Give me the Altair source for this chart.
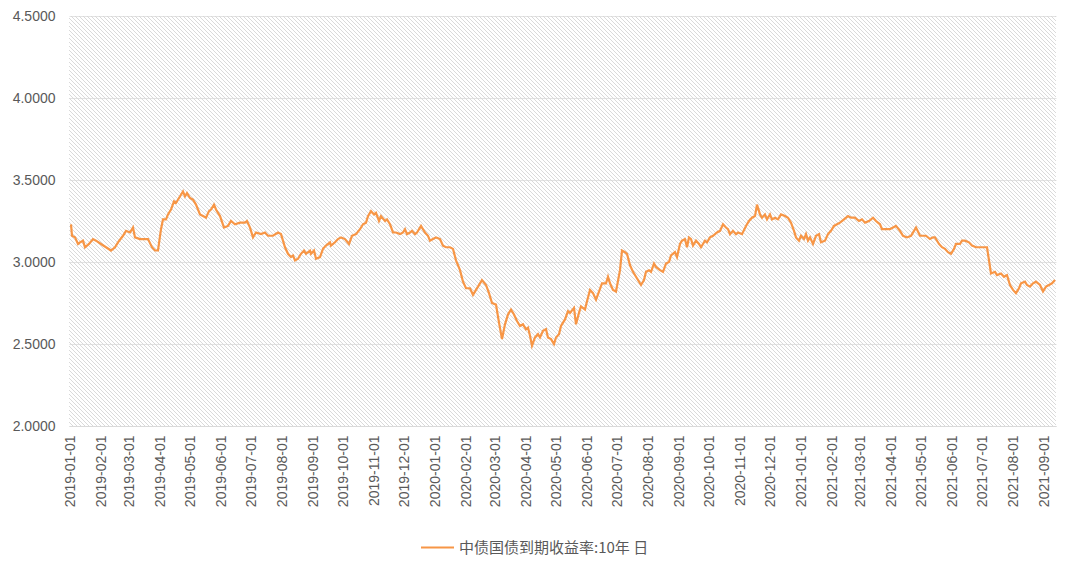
import altair as alt
import pandas as pd

SERIES = "中债国债到期收益率:10年 日"

dates = [
    "2019-01-02","2019-01-03","2019-01-06","2019-01-09","2019-01-11","2019-01-14","2019-01-16","2019-01-20",
    "2019-01-24","2019-01-27","2019-02-01","2019-02-06","2019-02-11","2019-02-15","2019-02-18","2019-02-23",
    "2019-02-26","2019-03-02","2019-03-05","2019-03-07","2019-03-12","2019-03-17","2019-03-20","2019-03-24",
    "2019-03-27","2019-03-30","2019-04-02","2019-04-04","2019-04-07","2019-04-09","2019-04-12","2019-04-15",
    "2019-04-17","2019-04-20","2019-04-22","2019-04-24","2019-04-26","2019-04-28","2019-05-01","2019-05-04",
    "2019-05-07","2019-05-11","2019-05-14","2019-05-17","2019-05-20","2019-05-22","2019-05-25","2019-05-27",
    "2019-05-31","2019-06-04","2019-06-08","2019-06-11","2019-06-15","2019-06-20","2019-06-25","2019-06-27",
    "2019-06-30","2019-07-03","2019-07-06","2019-07-11","2019-07-15","2019-07-18","2019-07-23","2019-07-28",
    "2019-07-31","2019-08-04","2019-08-07","2019-08-10","2019-08-12","2019-08-14","2019-08-17","2019-08-20",
    "2019-08-23","2019-08-25","2019-08-29","2019-08-30","2019-09-02","2019-09-04","2019-09-08","2019-09-11",
    "2019-09-14","2019-09-18","2019-09-19","2019-09-23","2019-09-26","2019-09-29","2019-10-03","2019-10-07",
    "2019-10-10","2019-10-14","2019-10-18","2019-10-21","2019-10-24","2019-10-26","2019-10-29","2019-11-01",
    "2019-11-03","2019-11-06","2019-11-08","2019-11-12","2019-11-14","2019-11-17","2019-11-20","2019-11-23",
    "2019-11-27","2019-11-30","2019-12-02","2019-12-04","2019-12-07","2019-12-09","2019-12-12","2019-12-14",
    "2019-12-18","2019-12-22","2019-12-25","2019-12-27","2019-12-30","2020-01-02","2020-01-06","2020-01-09",
    "2020-01-12","2020-01-16","2020-01-19","2020-01-22","2020-01-26","2020-01-29","2020-02-01","2020-02-05",
    "2020-02-08","2020-02-11","2020-02-15","2020-02-17","2020-02-21","2020-02-24","2020-02-27","2020-03-02",
    "2020-03-05","2020-03-08","2020-03-11","2020-03-14","2020-03-17","2020-03-20","2020-03-23","2020-03-26",
    "2020-03-29","2020-04-01","2020-04-03","2020-04-05","2020-04-07","2020-04-10","2020-04-13","2020-04-15",
    "2020-04-18","2020-04-21","2020-04-23","2020-04-26","2020-04-29","2020-05-01","2020-05-04","2020-05-06",
    "2020-05-10","2020-05-13","2020-05-15","2020-05-19","2020-05-21","2020-05-24","2020-05-26","2020-05-30",
    "2020-06-01","2020-06-04","2020-06-07","2020-06-10","2020-06-13","2020-06-16","2020-06-20","2020-06-22",
    "2020-06-24","2020-06-27","2020-06-30","2020-07-04","2020-07-06","2020-07-09","2020-07-11","2020-07-14",
    "2020-07-17","2020-07-20","2020-07-22","2020-07-25","2020-07-28","2020-07-30","2020-08-02","2020-08-04",
    "2020-08-07","2020-08-09","2020-08-13","2020-08-16","2020-08-19","2020-08-22","2020-08-24","2020-08-28",
    "2020-08-30","2020-09-02","2020-09-04","2020-09-07","2020-09-09","2020-09-11","2020-09-13","2020-09-15",
    "2020-09-18","2020-09-21","2020-09-23","2020-09-27","2020-09-29","2020-10-02","2020-10-05","2020-10-09",
    "2020-10-12","2020-10-15","2020-10-18","2020-10-20","2020-10-22","2020-10-25","2020-10-28","2020-10-30",
    "2020-11-03","2020-11-07","2020-11-10","2020-11-13","2020-11-16","2020-11-18","2020-11-21","2020-11-23",
    "2020-11-26","2020-11-28","2020-12-01","2020-12-03","2020-12-06","2020-12-09","2020-12-12","2020-12-16",
    "2020-12-19","2020-12-22","2020-12-25","2020-12-27","2020-12-30","2021-01-01","2021-01-04","2021-01-06",
    "2021-01-08","2021-01-10","2021-01-13","2021-01-16","2021-01-19","2021-01-21","2021-01-25","2021-01-28",
    "2021-01-31","2021-02-03","2021-02-06","2021-02-09","2021-02-13","2021-02-17","2021-02-20","2021-02-24",
    "2021-02-28","2021-03-03","2021-03-06","2021-03-10","2021-03-14","2021-03-17","2021-03-21","2021-03-23",
    "2021-03-26","2021-03-31","2021-04-03","2021-04-06","2021-04-10","2021-04-13","2021-04-17","2021-04-21",
    "2021-04-24","2021-04-26","2021-04-30","2021-05-03","2021-05-06","2021-05-10","2021-05-13","2021-05-15",
    "2021-05-19","2021-05-22","2021-05-25","2021-05-28","2021-05-31","2021-06-03","2021-06-05","2021-06-09",
    "2021-06-11","2021-06-14","2021-06-18","2021-06-21","2021-06-25","2021-06-30","2021-07-04","2021-07-06",
    "2021-07-08","2021-07-10","2021-07-14","2021-07-16","2021-07-20","2021-07-23","2021-07-26","2021-07-29",
    "2021-08-01","2021-08-04","2021-08-07","2021-08-09","2021-08-13","2021-08-15","2021-08-18","2021-08-21",
    "2021-08-24","2021-08-28","2021-08-31","2021-09-03","2021-09-06","2021-09-09","2021-09-12",
]

yields = [
    3.23,3.16,3.15,3.11,3.12,3.13,3.09,3.11,
    3.14,3.13,3.11,3.09,3.07,3.09,3.12,3.16,
    3.19,3.18,3.21,3.15,3.14,3.14,3.14,3.09,
    3.07,3.07,3.20,3.26,3.26,3.29,3.32,3.37,
    3.36,3.39,3.41,3.43,3.40,3.42,3.39,3.38,
    3.35,3.29,3.28,3.27,3.31,3.32,3.35,3.32,
    3.28,3.21,3.22,3.25,3.23,3.24,3.24,3.25,
    3.21,3.15,3.18,3.17,3.18,3.16,3.16,3.18,
    3.17,3.09,3.05,3.03,3.04,3.01,3.02,3.05,
    3.07,3.05,3.07,3.05,3.07,3.02,3.03,3.08,
    3.10,3.12,3.10,3.12,3.14,3.15,3.14,3.11,
    3.16,3.17,3.20,3.23,3.24,3.28,3.31,3.29,
    3.30,3.25,3.28,3.25,3.26,3.23,3.18,3.18,
    3.17,3.18,3.20,3.17,3.18,3.19,3.17,3.18,
    3.22,3.18,3.16,3.13,3.14,3.15,3.14,3.10,
    3.09,3.09,3.08,3.01,2.95,2.88,2.84,2.84,
    2.80,2.83,2.87,2.89,2.86,2.81,2.75,2.74,
    2.63,2.53,2.62,2.68,2.71,2.68,2.64,2.61,
    2.62,2.59,2.60,2.55,2.49,2.54,2.56,2.54,
    2.58,2.59,2.54,2.53,2.50,2.54,2.56,2.61,
    2.65,2.70,2.69,2.72,2.62,2.69,2.73,2.71,
    2.76,2.83,2.81,2.77,2.82,2.87,2.87,2.91,
    2.87,2.83,2.82,2.95,3.07,3.06,3.05,2.98,
    2.94,2.91,2.89,2.86,2.89,2.94,2.95,2.94,
    2.99,2.97,2.95,2.94,2.99,3.00,3.04,3.06,
    3.03,3.11,3.13,3.14,3.09,3.15,3.14,3.10,
    3.13,3.11,3.09,3.13,3.12,3.15,3.16,3.18,
    3.19,3.23,3.21,3.20,3.17,3.19,3.17,3.18,
    3.17,3.22,3.25,3.27,3.28,3.35,3.29,3.27,
    3.29,3.26,3.29,3.26,3.27,3.26,3.29,3.28,
    3.27,3.24,3.19,3.15,3.13,3.16,3.14,3.17,
    3.13,3.15,3.11,3.16,3.17,3.12,3.13,3.17,
    3.19,3.22,3.23,3.24,3.26,3.28,3.27,3.27,
    3.25,3.26,3.24,3.25,3.27,3.25,3.23,3.20,
    3.20,3.20,3.21,3.22,3.19,3.16,3.15,3.16,
    3.19,3.21,3.16,3.16,3.16,3.14,3.15,3.15,
    3.11,3.09,3.08,3.06,3.05,3.08,3.11,3.11,
    3.13,3.13,3.12,3.10,3.09,3.09,3.09,3.09,
    3.01,2.93,2.94,2.92,2.93,2.91,2.92,2.86,
    2.83,2.81,2.84,2.87,2.88,2.86,2.85,2.87,
    2.88,2.86,2.82,2.85,2.86,2.87,2.89,
]

y_ticks = [2.0, 2.5, 3.0, 3.5, 4.0, 4.5]

W, H = 987, 410
LINE_COLOR = "#F79646"
TEXT_COLOR = "#595959"

df = pd.DataFrame({"date": dates, "value": yields, "series": SERIES})

# decorative diagonal hatching of the plot background
hatch_rows = []
step = 4
for c in range(-H, W + step, step):
    hatch_rows.append({"hx": c, "hy": 0, "hx2": c + H, "hy2": H})
hatch_df = pd.DataFrame(hatch_rows)

hatch = alt.Chart(hatch_df).mark_rule(
    stroke="#d6d6d6", strokeWidth=0.9, clip=True
).encode(
    x=alt.X("hx:Q", scale=None, axis=None),
    y=alt.Y("hy:Q", scale=None, axis=None),
    x2="hx2:Q",
    y2="hy2:Q",
)

line = alt.Chart(df).mark_line(strokeWidth=2.2, interpolate="linear").encode(
    x=alt.X(
        "date:T",
        scale=alt.Scale(
            domain=[
                alt.DateTime(year=2018, month=12, date=31),
                alt.DateTime(year=2021, month=9, date=13),
            ]
        ),
        axis=alt.Axis(
            title=None,
            format="%Y-%m-%d",
            tickCount=alt.TimeIntervalStep(interval="month", step=1),
            labelAngle=-90,
            labelFont="Liberation Sans",
            labelFontSize=14,
            labelColor=TEXT_COLOR,
            labelPadding=9,
            ticks=False,
            grid=False,
            domainColor="#d9d9d9",
            domainWidth=1,
            labelOverlap=False,
        ),
    ),
    y=alt.Y(
        "value:Q",
        scale=alt.Scale(domain=[2.0, 4.5], nice=False, zero=False),
        axis=alt.Axis(
            title=None,
            values=y_ticks,
            format=".4f",
            labelFont="Liberation Sans",
            labelFontSize=14,
            labelColor=TEXT_COLOR,
            labelPadding=14,
            ticks=False,
            domain=False,
            grid=True,
            gridColor="#e3e3e3",
            gridWidth=1,
        ),
    ),
    color=alt.Color(
        "series:N",
        scale=alt.Scale(range=[LINE_COLOR]),
        legend=alt.Legend(
            title=None,
            orient="none",
            legendX=351,
            legendY=514,
            symbolType="stroke",
            symbolSize=1089,
            symbolStrokeWidth=2,
            labelFont="Noto Sans CJK SC",
            labelFontSize=15,
            labelColor=TEXT_COLOR,
            labelOffset=4,
            labelLimit=0,
            padding=0,
        ),
    ),
)

chart = (
    alt.layer(hatch, line)
    .resolve_scale(x="independent", y="independent")
    .properties(
        width=W,
        height=H,
        padding={"left": 69, "top": 16, "right": 24, "bottom": 140},
        autosize=alt.AutoSizeParams(type="none"),
        background="white",
    )
    .configure_view(stroke=None)
)

chart.save("out.html", embed_options={"renderer": "svg", "actions": False})
